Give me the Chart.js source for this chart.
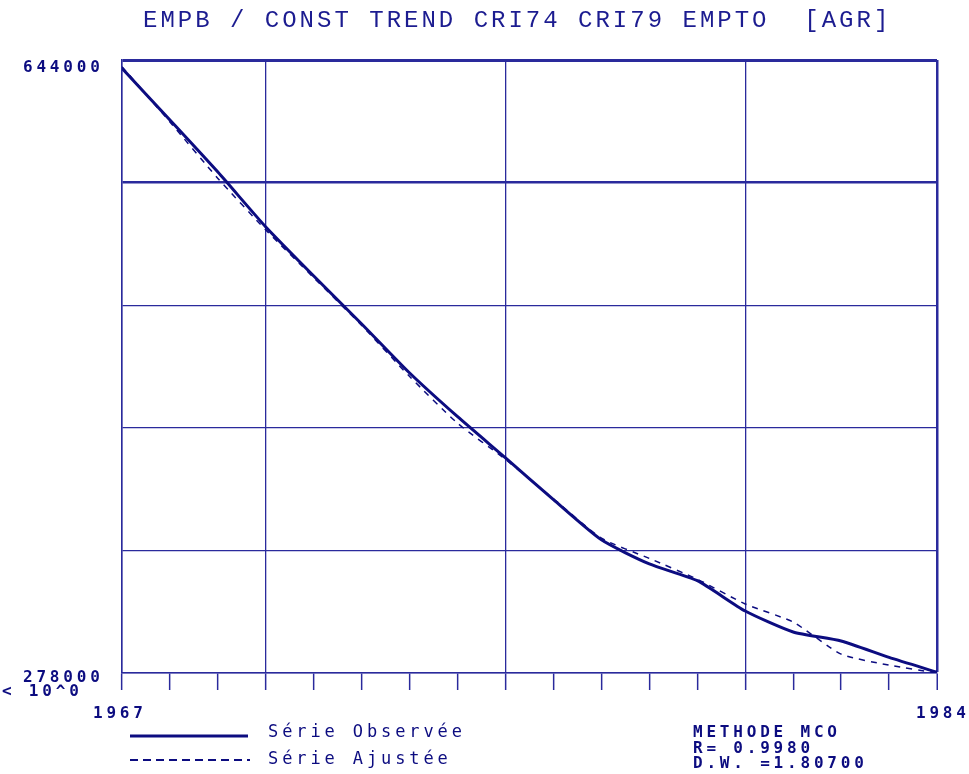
<!DOCTYPE html>
<html>
<head>
<meta charset="utf-8">
<script src="https://cdn.jsdelivr.net/npm/chart.js@4/dist/chart.umd.min.js"></script>
<style>
  html, body { margin: 0; padding: 0; background: #ffffff; }
  #wrap { width: 969px; height: 774px; position: relative; }
</style>
</head>
<body>
<div id="wrap"><canvas id="chartCanvas"></canvas></div>
<script>
// series, one point per year
const years = [1967, 1968, 1969, 1970, 1971, 1972, 1973, 1974, 1975, 1976, 1977, 1978, 1979, 1980, 1981, 1982, 1983, 1984];
const observed = [639000, 608200, 577100, 544300, 515000, 486400, 457100, 431000, 406400, 381500, 357500, 343100, 333100, 315000, 302500, 297100, 287300, 278500];
const fitted = [640000, 607000, 573300, 542500, 514000, 485500, 455000, 427100, 405500, 382000, 358500, 346400, 334000, 319200, 308400, 289300, 282700, 278000];

const yMin = 278000;
const yMax = 644000;
const yStep = 73200;
const xGridYears = [1967, 1970, 1975, 1980, 1984];

const titleText = "EMPB / CONST TREND CRI74 CRI79 EMPTO  [AGR]";
const legendLabels = ["Série Observée", "Série Ajustée"];
const statsLines = ["METHODE MCO", "R= 0.9980", "D.W. =1.80700"];

const navy = "#0c0c80";
const gridBlue = "#2a2a9c";

function toPoints(values) {
    return years.map((yr, i) => ({ x: yr, y: values[i] }));
}

function drawText(ctx, text, x, y, font, spacing) {
    ctx.font = font;
    ctx.letterSpacing = spacing + "px";
    ctx.fillText(text, x, y);
}

const textPlugin = {
    id: "textPlugin",
    afterDraw(chart) {
        const ctx = chart.ctx;
        const xs = chart.scales.x;
        const ys = chart.scales.y;
        ctx.save();
        ctx.fillStyle = navy;
        ctx.textBaseline = "middle";
        ctx.textAlign = "left";

        // title
        ctx.fillStyle = "#1c1c90";
        drawText(ctx, titleText, 143, 21, "24px 'Liberation Mono'", 3);
        ctx.fillStyle = navy;

        // axis values
        const bold = "bold 16px 'DejaVu Sans Mono'";
        drawText(ctx, String(yMax), 23, ys.getPixelForValue(yMax) + 8, bold, 3.8);
        drawText(ctx, String(yMin), 23, ys.getPixelForValue(yMin) + 5, bold, 3.8);
        drawText(ctx, "< 10^0", 2, 692, bold, 3.8);
        drawText(ctx, String(years[0]), xs.getPixelForValue(years[0]) - 29, 714, bold, 3.8);
        drawText(ctx, String(years[years.length - 1]), xs.getPixelForValue(years[years.length - 1]) - 21, 714, bold, 3.8);

        // legend
        ctx.strokeStyle = navy;
        ctx.lineWidth = 3;
        ctx.setLineDash([]);
        ctx.beginPath();
        ctx.moveTo(130, 736);
        ctx.lineTo(248, 736);
        ctx.stroke();
        ctx.lineWidth = 2;
        ctx.setLineDash([8, 5]);
        ctx.beginPath();
        ctx.moveTo(130, 760);
        ctx.lineTo(250, 760);
        ctx.stroke();
        ctx.setLineDash([]);

        const legendFont = "17px 'DejaVu Sans Mono'";
        drawText(ctx, legendLabels[0], 268, 733, legendFont, 3.9);
        drawText(ctx, legendLabels[1], 268, 760, legendFont, 3.9);

        // method box
        statsLines.forEach((line, i) => {
            drawText(ctx, line, 693, 733 + i * 15.5, bold, 3.8);
        });
        ctx.restore();
    }
};

const ctx = document.getElementById("chartCanvas").getContext("2d");

window.chart = new Chart(ctx, {
    type: "line",
    data: {
        datasets: [
            {
                label: legendLabels[0],
                data: toPoints(observed),
                borderColor: navy,
                borderWidth: 3,
                pointRadius: 0,
                tension: 0.2,
                fill: false
            },
            {
                label: legendLabels[1],
                data: toPoints(fitted),
                borderColor: navy,
                borderWidth: 1.5,
                borderDash: [6, 6],
                pointRadius: 0,
                tension: 0.2,
                fill: false
            }
        ]
    },
    options: {
        responsive: true,
        maintainAspectRatio: false,
        animation: false,
        layout: {
            padding: { left: 122, right: 32, top: 60, bottom: 84 }
        },
        plugins: {
            legend: { display: false },
            title: { display: false },
            tooltip: { enabled: false }
        },
        scales: {
            x: {
                type: "linear",
                min: years[0],
                max: years[years.length - 1],
                ticks: { display: false, stepSize: 1 },
                grid: {
                    drawTicks: true,
                    tickLength: 17,
                    tickWidth: 1.5,
                    tickColor: gridBlue,
                    color: c => xGridYears.includes(c.tick.value) ? gridBlue : "rgba(0,0,0,0)",
                    lineWidth: c => (c.tick.value === years[years.length - 1] ? 2.5 : 1.3)
                },
                border: { display: true, color: gridBlue, width: 1.5 }
            },
            y: {
                min: yMin,
                max: yMax,
                ticks: { display: false, stepSize: yStep },
                grid: {
                    drawTicks: false,
                    color: gridBlue,
                    lineWidth: c => {
                        if (c.tick.value === yMax) return 3;
                        if (c.tick.value === yMax - yStep) return 2.5;
                        return 1.3;
                    }
                },
                border: { display: true, color: gridBlue, width: 1.5 }
            }
        }
    },
    plugins: [textPlugin]
});
</script>
</body>
</html>
